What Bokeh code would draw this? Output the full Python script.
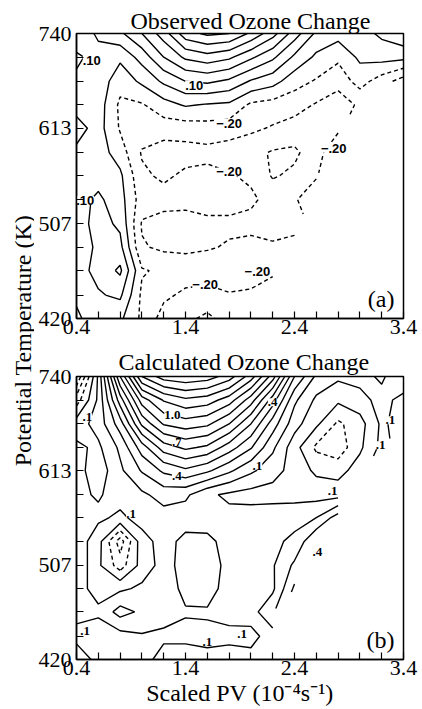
import numpy as np
from bokeh.plotting import figure
from bokeh.layouts import row, column
from bokeh.models import FixedTicker, Range1d, Title, Label, BasicTickFormatter
from bokeh.embed import file_html
from bokeh.resources import INLINE
from bokeh.core.properties import value

# ---------------- data ----------------
pv = [0.4, 0.6, 0.8, 1.0, 1.2, 1.4, 1.6, 1.8, 2.0, 2.2, 2.4, 2.6, 2.8, 3.0, 3.2, 3.4]
theta = [420, 440, 462, 484, 507, 532, 558, 584, 613, 642, 673, 706, 740]

x_ticks = [0.4, 1.4, 2.4, 3.4]
x_minor = [0.6, 0.8, 1.0, 1.2, 1.6, 1.8, 2.0, 2.2, 2.6, 2.8, 3.0, 3.2]
y_ticks = [420, 507, 613, 740]
y_minor = [440, 462, 484, 532, 558, 584, 642, 673, 706]

N = None
# observed ozone change, rows listed from 740 K (top) down to 420 K
observed_rows = [
    [0.02, 0.12, 0.18, 0.30, 0.45, 0.66, 0.72, 0.70, 0.58, 0.44, 0.25, 0.08, 0.04, 0.06, 0.12, 0.18],
    [0.12, 0.06, 0.02, 0.14, 0.30, 0.42, 0.46, 0.42, 0.32, 0.22, 0.08, -0.02, -0.08, 0.02, 0.04, 0.03],
    [0.08, 0.06, -0.06, 0.02, 0.12, 0.20, 0.22, 0.18, 0.09, 0.04, -0.06, -0.11, -0.16, -0.06, -0.15, -0.25],
    [0.04, 0.05, -0.12, -0.11, -0.04, 0.01, -0.01, -0.02, -0.12, -0.14, -0.16, -0.21, -0.26, -0.18, N, N],
    [-0.04, 0.04, -0.11, -0.14, -0.15, -0.15, -0.14, -0.15, -0.18, -0.21, -0.24, -0.28, -0.22, N, N, N],
    [0.02, 0.05, -0.05, -0.21, -0.25, -0.24, -0.23, -0.25, -0.27, -0.31, -0.32, -0.24, -0.12, N, N, N],
    [0.05, 0.06, 0.02, -0.18, -0.22, -0.18, -0.17, -0.19, -0.22, -0.31, -0.28, -0.21, N, N, N, N],
    [0.06, 0.12, 0.04, -0.15, -0.16, -0.16, -0.14, -0.16, -0.18, -0.24, -0.21, -0.14, N, N, N, N],
    [0.05, 0.14, 0.08, -0.21, -0.24, -0.25, -0.23, -0.22, -0.23, -0.26, -0.24, N, N, N, N, N],
    [0.04, 0.12, 0.13, -0.19, -0.22, -0.22, -0.21, -0.19, -0.17, -0.18, -0.16, N, N, N, N, N],
    [0.06, 0.13, 0.22, -0.09, -0.12, -0.15, -0.14, -0.12, -0.14, -0.18, N, N, N, N, N, N],
    [0.08, 0.09, 0.12, -0.12, -0.18, -0.22, -0.24, -0.21, -0.22, -0.26, N, N, N, N, N, N],
    [0.12, 0.04, 0.02, -0.12, -0.24, -0.28, -0.32, -0.26, -0.26, N, N, N, N, N, N, N],
]
# calculated ozone change, rows listed from 740 K (top) down to 420 K
calculated_rows = [
    [-0.40, 0.12, 0.80, 1.30, 1.45, 1.48, 1.45, 1.35, 1.15, 0.85, 0.40, 0.18, 0.12, 0.14, 0.08, 0.20],
    [-0.15, 0.12, 0.55, 0.95, 1.11, 1.18, 1.15, 1.05, 0.85, 0.55, 0.22, 0.08, 0.02, 0.06, 0.14, 0.06],
    [0.05, 0.14, 0.35, 0.72, 0.91, 0.95, 0.92, 0.80, 0.60, 0.35, 0.14, 0.02, -0.12, -0.04, 0.12, 0.05],
    [0.12, 0.08, 0.22, 0.45, 0.65, 0.72, 0.68, 0.55, 0.41, 0.22, 0.04, -0.12, -0.16, -0.02, 0.13, N],
    [0.14, 0.04, 0.18, 0.31, 0.42, 0.48, 0.42, 0.32, 0.22, 0.14, 0.06, -0.02, -0.04, 0.05, N, N],
    [0.12, 0.09, 0.14, 0.18, 0.24, 0.22, 0.12, 0.08, 0.06, 0.06, 0.06, 0.06, 0.06, N, N, N],
    [0.14, 0.12, 0.08, 0.14, 0.16, 0.15, 0.14, 0.13, 0.15, 0.16, 0.17, 0.20, 0.35, N, N, N],
    [0.16, 0.04, -0.25, 0.06, 0.14, 0.07, 0.08, 0.13, 0.14, 0.18, 0.22, 0.40, N, N, N, N],
    [0.18, 0.02, -0.15, 0.04, 0.14, 0.06, 0.05, 0.13, 0.14, 0.19, 0.32, N, N, N, N, N],
    [0.14, 0.06, 0.08, 0.12, 0.16, 0.07, 0.06, 0.14, 0.15, 0.18, 0.42, N, N, N, N, N],
    [0.12, 0.12, 0.24, 0.18, 0.14, 0.11, 0.11, 0.14, 0.16, 0.28, N, N, N, N, N, N],
    [0.08, 0.04, 0.06, 0.09, 0.08, 0.07, 0.08, 0.07, 0.06, 0.16, N, N, N, N, N, N],
    [0.14, 0.08, 0.06, 0.06, 0.14, 0.16, 0.12, 0.15, 0.14, 0.13, N, N, N, N, N, N],
]

obs_neg_levels = [-0.4, -0.3, -0.2, -0.1]
obs_pos_levels = [0.0, 0.1, 0.2, 0.3, 0.4, 0.5, 0.6, 0.7]
calc_neg_levels = [-0.4, -0.3, -0.2, -0.1]
calc_pos_levels = [0.0, 0.1, 0.2, 0.3, 0.4, 0.5, 0.6, 0.7, 0.8, 0.9, 1.0, 1.1, 1.2, 1.3, 1.4]

obs_label_text = [".10", ".10", ".10", "\u2212.20", "\u2212.20", "\u2212.20", "\u2212.20", "\u2212.20"]
obs_label_pv = [0.54, 1.48, 0.48, 1.80, 1.80, 2.76, 1.58, 2.06]
obs_label_theta = [702, 668, 531, 619, 562, 589, 449, 461]

calc_label_text = [".1", "1.0", ".7", ".4", ".1", ".1", ".1", ".4", ".1", ".1", ".1", ".1", ".4", ".1"]
calc_label_pv = [0.50, 1.28, 1.32, 1.32, 0.90, 0.48, 1.60, 2.20, 2.06, 2.75, 3.28, 3.19, 2.61, 1.92]
calc_label_theta = [682, 685, 649, 606, 562, 445, 435, 703, 619, 589, 678, 645, 521, 442]

SERIF = "Liberation Serif"


def to_grid(rows):
    return np.array([[np.nan if v is None else v for v in r] for r in rows[::-1]], dtype=float)


def make_panel(rows, neg_levels, pos_levels, title, title_offset, title_standoff,
               height, top, bottom, lab_text, lab_x, lab_y, lab_font, tag, xlabel=None):
    p = figure(width=388, height=height,
               x_range=Range1d(0.4, 3.4), y_range=Range1d(420, 740), y_axis_type="log",
               toolbar_location=None, output_backend="svg",
               min_border_left=42, min_border_right=19, min_border_top=top, min_border_bottom=bottom,
               background_fill_color="white", border_fill_color="white")
    p.title = Title(text=title, align="left", offset=title_offset, standoff=title_standoff,
                    text_font=SERIF, text_font_size="24px", text_font_style="normal",
                    text_color="black")
    p.xgrid.visible = False
    p.ygrid.visible = False
    p.outline_line_color = "black"
    p.outline_line_width = 1.5
    p.outline_line_alpha = 1.0

    p.xaxis.ticker = FixedTicker(ticks=x_ticks, minor_ticks=x_minor)
    p.yaxis.ticker = FixedTicker(ticks=y_ticks, minor_ticks=y_minor)
    p.yaxis.formatter = BasicTickFormatter(use_scientific=False)
    for ax in (p.xaxis[0], p.yaxis[0]):
        ax.major_tick_in = 7
        ax.major_tick_out = 0
        ax.minor_tick_in = 7
        ax.minor_tick_out = 0
        ax.axis_line_width = 1.5
        ax.axis_line_color = "black"
        ax.major_tick_line_width = 1.2
        ax.minor_tick_line_width = 1.2
        ax.major_tick_line_color = "black"
        ax.minor_tick_line_color = "black"
        ax.major_label_text_font = SERIF
        ax.major_label_text_font_size = "22px"
        ax.major_label_text_color = "black"
    p.yaxis.major_label_standoff = 5
    p.xaxis.major_label_standoff = 1
    if xlabel:
        p.xaxis.axis_label = xlabel
        p.xaxis.axis_label_text_font = SERIF
        p.xaxis.axis_label_text_font_size = "24px"
        p.xaxis.axis_label_text_font_style = "normal"
        p.xaxis.axis_label_text_color = "black"
        p.xaxis.axis_label_standoff = 2

    z = to_grid(rows)
    p.contour(pv, theta, z, levels=neg_levels, line_color="black", line_width=1.4, line_dash="4 3")
    p.contour(pv, theta, z, levels=pos_levels, line_color="black", line_width=1.4)

    p.text(x=lab_x, y=lab_y, text=lab_text, text_font=value(lab_font), text_font_size="13px",
           text_font_style="bold", text_align="center", text_baseline="middle",
           text_color="black", background_fill_color="white")

    p.add_layout(Label(x=318, y=20, x_units="screen", y_units="screen", text=tag,
                       text_font=SERIF, text_font_size="24px", text_align="right",
                       text_baseline="middle", text_color="black"))
    return p


pa = make_panel(observed_rows, obs_neg_levels, obs_pos_levels, "Observed Ozone Change", 54, 0,
                345, 33, 27, obs_label_text, obs_label_pv, obs_label_theta, "Liberation Sans", "(a)")
pb = make_panel(calculated_rows, calc_neg_levels, calc_pos_levels, "Calculated Ozone Change", 42, 3,
                364, 31, 50, calc_label_text, calc_label_pv, calc_label_theta, SERIF, "(b)",
                xlabel="Scaled PV (10\u207b\u2074s\u207b\u00b9)")

pl = figure(width=34, height=709, x_range=Range1d(0, 34), y_range=Range1d(0, 709),
            toolbar_location=None, output_backend="svg", x_axis_location=None, y_axis_location=None,
            min_border=0, outline_line_color=None)
pl.xgrid.visible = False
pl.ygrid.visible = False
pl.text(x=[22], y=[369], text=["Potential Temperature (K)"], angle=np.pi / 2,
        text_font=value(SERIF), text_font_size="24px", text_align="center",
        text_baseline="middle", text_color="black")

layout = row(pl, column(pa, pb))
open("out.html", "w").write(file_html(layout, INLINE))
